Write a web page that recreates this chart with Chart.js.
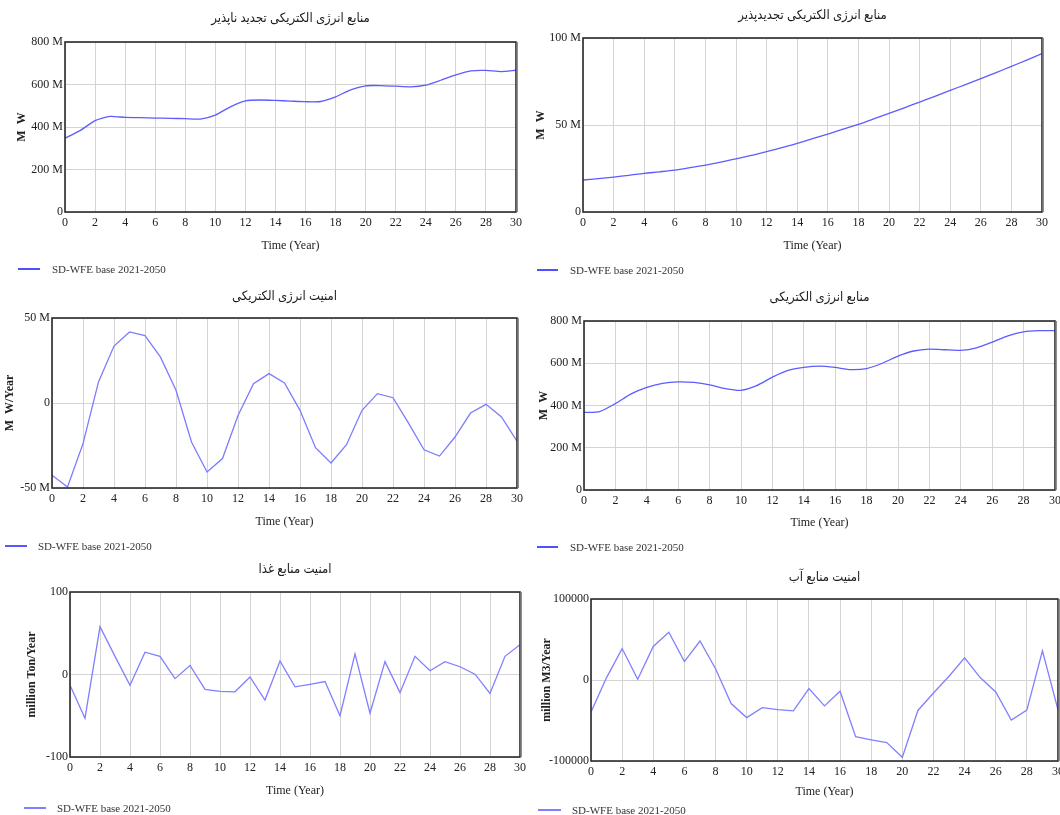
<!DOCTYPE html>
<html lang="fa">
<head>
  <meta charset="UTF-8" />
  <title>SD-WFE base 2021-2050</title>
  <script src="https://cdn.jsdelivr.net/npm/chart.js"></script>
  <style>
    html, body { margin: 0; padding: 0; background: #fff; overflow: hidden; }
    #board { position: relative; width: 1060px; height: 815px; }
    #board canvas { position: absolute; }
  </style>
</head>
<body>
  <div id="board"></div>

  <script>
    // time axis (years since 2021)
    const years = [0,1,2,3,4,5,6,7,8,9,10,11,12,13,14,15,16,17,18,19,20,21,22,23,24,25,26,27,28,29,30];

    // منابع انرژی الکتریکی تجدید ناپذیر (M W, in millions)
    const nonRenewable = [347,383,430,450,445,444,442,441,439,437,456,495,523,527,525,522,519,520,542,575,594,595,592,589,597,620,645,664,666,661,667];
    // منابع انرژی الکتریکی تجدیدپذیر (M W, in millions)
    const renewable = [18.4,19.2,20.1,21.1,22.2,23.1,24.1,25.5,27.0,28.7,30.5,32.5,34.7,37.0,39.5,42.1,44.8,47.6,50.4,53.5,56.7,59.9,63.2,66.5,69.9,73.2,76.6,80.1,83.7,87.3,91.0];
    // امنیت انرژی الکتریکی (M W/Year, in millions)
    const electricSecurity = [-42.5,-49.4,-23.9,12.4,33.5,41.8,39.6,27,7.5,-22.9,-40.6,-32.7,-7.3,11.4,17.3,11.8,-4.3,-26.3,-35.3,-24.5,-4.3,5.5,3.1,-11.8,-27.5,-31.2,-20,-5.9,-0.8,-8.2,-22.5];
    // منابع انرژی الکتریکی (M W, in millions)
    const electricSupply = [367,371,409,455,486,505,512,509,498,480,472,494,534,566,580,586,580,570,575,600,634,658,667,664,661,673,700,730,749,754,754];
    // امنیت منابع غذا (million Ton/Year)
    const foodSecurity = [-13,-53,58,22,-13,27,22,-5,11,-18,-20.5,-21,-3,-31,16.4,-15,-12,-8.6,-50,25,-47,15.6,-22,22,4.5,15.6,9.4,0.4,-23,22,36];
    // امنیت منابع آب (million M3/Year)
    const waterSecurity = [-39700,3000,38800,800,41400,59000,22800,48100,13900,-29100,-46400,-34200,-36700,-38000,-10500,-32000,-13900,-70000,-73800,-77200,-95400,-37600,-16000,4600,27400,3000,-14800,-49400,-37100,35900,-36700];

    // tick values
    const xTicks = [0,2,4,6,8,10,12,14,16,18,20,22,24,26,28,30];
    const ticksMW = [0,200,400,600,800];
    const ticksRenew = [0,50,100];
    const ticksSecurity = [-50,0,50];
    const ticksFood = [-100,0,100];
    const ticksWater = [-100000,0,100000];

    const seriesName = 'SD-WFE base 2021-2050';
    const xTitle = 'Time (Year)';

    const SERIF = "'Liberation Serif', 'DejaVu Serif', serif";
    const TITLE_FONT = "'Liberation Serif', 'DejaVu Sans Condensed', 'DejaVu Sans', sans-serif";

    const withM = v => v === 0 ? '0' : v + ' M';
    const plain = v => String(v);

    // panel placement on the page: box + plot area (page px)
    const panels = [
      { title: 'منابع انرژی الکتریکی تجدید ناپذیر', unit: 'M  W', data: nonRenewable, yTicks: ticksMW, fmt: withM,
        box: [0, 0, 530, 282], plot: [65, 42, 516, 212], titleY: 19, xTitleY: 246, yTitleX: 22,
        legend: { y: 269, x1: 18, x2: 40, tx: 52 }, color: '#5c5cff', legendColor: '#2424ff', tension: 0.2 },
      { title: 'منابع انرژی الکتریکی تجدیدپذیر', unit: 'M  W', data: renewable, yTicks: ticksRenew, fmt: withM,
        box: [530, 0, 530, 282], plot: [583, 38, 1042, 212], titleY: 16, xTitleY: 246, yTitleX: 541,
        legend: { y: 270, x1: 537, x2: 558, tx: 570 }, color: '#5c5cff', legendColor: '#2424ff', tension: 0.3 },
      { title: 'امنیت انرژی الکتریکی', unit: 'M  W/Year', data: electricSecurity, yTicks: ticksSecurity, fmt: withM,
        box: [0, 282, 530, 272], plot: [52, 318, 517, 488], titleY: 297, xTitleY: 522, yTitleX: 10,
        legend: { y: 546, x1: 5, x2: 27, tx: 38 }, color: '#7c7cff', legendColor: '#2c2cff', tension: 0 },
      { title: 'منابع انرژی الکتریکی', unit: 'M  W', data: electricSupply, yTicks: ticksMW, fmt: withM,
        box: [530, 282, 530, 272], plot: [584, 321, 1055, 490], titleY: 298, xTitleY: 523, yTitleX: 544,
        legend: { y: 547, x1: 537, x2: 558, tx: 570 }, color: '#5c5cff', legendColor: '#2424ff', tension: 0.2 },
      { title: 'امنیت منابع غذا', unit: 'million Ton/Year', data: foodSecurity, yTicks: ticksFood, fmt: plain,
        box: [0, 554, 530, 261], plot: [70, 592, 520, 757], titleY: 570, xTitleY: 791, yTitleX: 32,
        legend: { y: 808, x1: 24, x2: 46, tx: 57 }, color: '#8080ff', legendColor: '#6060ff', tension: 0 },
      { title: 'امنیت منابع آب', unit: 'million M3/Year', data: waterSecurity, yTicks: ticksWater, fmt: plain,
        box: [530, 554, 530, 261], plot: [591, 599, 1058, 761], titleY: 578, xTitleY: 792, yTitleX: 547,
        legend: { y: 810, x1: 538, x2: 561, tx: 572 }, color: '#8080ff', legendColor: '#6060ff', tension: 0 }
    ];

    // dark frame round the plot area
    const framePlugin = {
      id: 'frame',
      afterDatasetsDraw(chart) {
        const { ctx, chartArea: a } = chart;
        ctx.save();
        ctx.strokeStyle = '#2a2a2a';
        ctx.lineWidth = 1.6;
        ctx.strokeRect(a.left, a.top, a.right - a.left, a.bottom - a.top);
        ctx.strokeStyle = '#8a8a8a';
        ctx.lineWidth = 1.5;
        ctx.beginPath();
        ctx.moveTo(a.right + 1.2, a.top);
        ctx.lineTo(a.right + 1.2, a.bottom);
        ctx.stroke();
        ctx.restore();
      }
    };

    // single-entry legend under the chart
    const panelLegend = {
      id: 'panelLegend',
      afterDraw(chart, args, opts) {
        const ctx = chart.ctx;
        ctx.save();
        ctx.strokeStyle = opts.color;
        ctx.lineWidth = 1.6;
        ctx.beginPath();
        ctx.moveTo(opts.x1, opts.y);
        ctx.lineTo(opts.x2, opts.y);
        ctx.stroke();
        ctx.fillStyle = '#333';
        ctx.font = '11px ' + SERIF;
        ctx.textBaseline = 'middle';
        ctx.textAlign = 'left';
        ctx.fillText(opts.text, opts.tx, opts.y + 1);
        ctx.restore();
      }
    };

    const board = document.getElementById('board');

    panels.forEach(p => {
      const [bx, by, bw, bh] = p.box;
      const [pl, pt, pr, pb] = p.plot;
      const canvas = document.createElement('canvas');
      canvas.width = bw;
      canvas.height = bh;
      canvas.style.left = bx + 'px';
      canvas.style.top = by + 'px';
      canvas.style.width = bw + 'px';
      canvas.style.height = bh + 'px';
      board.appendChild(canvas);

      const titleLH = 13 * 1.2;
      const xTitleLH = 12 * 1.2;
      const yTitleLH = 12 * 1.2;
      const yWidth = pl - bx;
      const xHeight = by + bh - pb;

      new Chart(canvas.getContext('2d'), {
        type: 'line',
        data: {
          datasets: [{
            label: seriesName,
            data: years.map((t, i) => ({ x: t, y: p.data[i] })),
            borderColor: p.color,
            borderWidth: 1.3,
            pointRadius: 0,
            tension: p.tension,
            fill: false
          }]
        },
        options: {
          responsive: false,
          animation: false,
          events: [],
          layout: { padding: { left: 0, top: 0, right: bx + bw - pr, bottom: 0 } },
          plugins: {
            legend: { display: false },
            tooltip: { enabled: false },
            title: {
              display: true,
              text: p.title,
              fullSize: false,
              color: '#1a1a1a',
              font: { family: TITLE_FONT, size: 13, weight: 'normal', lineHeight: 1.2 },
              padding: { top: p.titleY - by - titleLH / 2, bottom: pt - p.titleY - titleLH / 2 }
            },
            panelLegend: {
              text: seriesName,
              color: p.legendColor,
              y: p.legend.y - by,
              x1: p.legend.x1 - bx,
              x2: p.legend.x2 - bx,
              tx: p.legend.tx - bx
            }
          },
          scales: {
            x: {
              type: 'linear',
              min: xTicks[0],
              max: xTicks[xTicks.length - 1],
              afterFit: s => { s.height = xHeight; s.paddingLeft = 0; s.paddingRight = 0; },
              grid: { color: '#d4d4d4', lineWidth: 1, drawTicks: false },
              border: { display: false },
              ticks: { stepSize: xTicks[1] - xTicks[0], autoSkip: false, color: '#222', padding: 4, maxRotation: 0, font: { family: SERIF, size: 12 } },
              title: {
                display: true,
                text: xTitle,
                color: '#222',
                font: { family: SERIF, size: 12, lineHeight: 1.2 },
                padding: { top: 0, bottom: by + bh - p.xTitleY - xTitleLH / 2 }
              }
            },
            y: {
              type: 'linear',
              min: p.yTicks[0],
              max: p.yTicks[p.yTicks.length - 1],
              afterBuildTicks: s => { s.ticks = p.yTicks.map(v => ({ value: v })); },
              afterFit: s => { s.width = yWidth; s.paddingTop = 0; s.paddingBottom = 0; },
              grid: { color: '#d4d4d4', lineWidth: 1, drawTicks: false },
              border: { display: false },
              ticks: { color: '#222', padding: 2, font: { family: SERIF, size: 12 }, callback: v => p.fmt(v) },
              title: {
                display: true,
                text: p.unit,
                color: '#222',
                font: { family: SERIF, size: 12, weight: 'bold', lineHeight: 1.2 },
                padding: { top: p.yTitleX - bx - yTitleLH / 2, bottom: 0 }
              }
            }
          }
        },
        plugins: [framePlugin, panelLegend]
      });
    });
  </script>
</body>
</html>
